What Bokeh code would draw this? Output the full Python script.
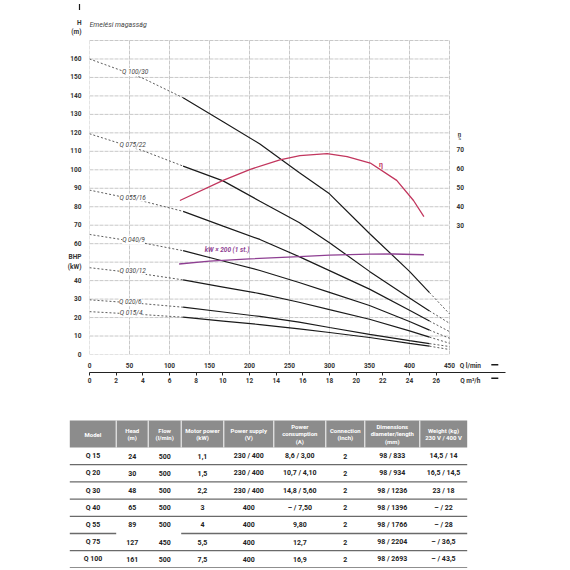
from bokeh.plotting import figure
from bokeh.models import Range1d, LinearAxis, FixedTicker, Label, Arrow, NormalHead
from bokeh.layouts import column
from bokeh.core.properties import value
from bokeh.embed import file_html
from bokeh.resources import INLINE

# ---------------- data ----------------
q_lmin = [0, 67, 117, 167, 213, 262, 300, 350, 400, 425, 450]
h_q100 = [160, 149.5, 139, 126, 114, 98.5, 87, 65.5, 45, 33.5, 22]
h_q75 = [119.5, 110.3, 102, 94, 83, 71.5, 60.5, 45, 30.6, 23.6, 16.9]
h_q55 = [89, 83, 77.5, 69.5, 62.3, 53, 45.4, 35.4, 24, 18.1, 12.4]
h_q40 = [65, 60.4, 56.2, 50.6, 45.5, 39, 33.6, 26.5, 17.9, 13.2, 8.8]
h_q30 = [47, 43.6, 40.4, 36.5, 33, 28.3, 24.3, 19.1, 12.8, 9.4, 6.1]
h_q20 = [29.6, 27.5, 25.6, 23, 20.6, 17.5, 14.6, 10.9, 7.5, 5.9, 4.3]
h_q15 = [23.2, 21.6, 20.2, 18.1, 16.2, 13.9, 11.9, 9.2, 6.0, 4.5, 2.7]
curve_names = ["Q 100/30", "Q 075/22", "Q 055/16", "Q 040/9", "Q 030/12", "Q 020/6", "Q 015/4"]
curve_heads = [h_q100, h_q75, h_q55, h_q40, h_q30, h_q20, h_q15]
label_q = [57, 54, 54, 55, 54, 51, 52]
label_h = [153, 113.5, 85, 62, 45.4, 28.3, 22.3]

eta_q = [113, 167, 201, 238, 263, 297, 322, 351, 384, 405, 418]
eta_pct = [43.3, 53.8, 59.6, 64.6, 66.8, 67.8, 66.2, 62.9, 53.8, 43.3, 34.9]
kw_q = [112, 150, 200, 262, 300, 350, 380, 418]
kw_x200 = [49, 50.5, 51.8, 53, 53.8, 54.3, 54.4, 54]

h_ticks = list(range(0, 170, 10))
h_grid = list(range(0, 171, 10))
q_ticks = list(range(0, 451, 50))
m3h_ticks = list(range(0, 27, 2))
eta_ticks = [30, 40, 50, 60, 70]
eta_labels = ["30", "40", "50", "60", "70"]

headers = ["Model", "Head\n(m)", "Flow\n(l/min)", "Motor power\n(kW)", "Power supply\n(V)",
           "Power\nconsumption\n(A)", "Connection\n(inch)", "Dimensions\ndiameter/length\n(mm)",
           "Weight (kg)\n230 V / 400 V"]
models = ["Q 15", "Q 20", "Q 30", "Q 40", "Q 55", "Q 75", "Q 100"]
head_m = ["24", "30", "48", "65", "89", "127", "161"]
flow = ["500", "500", "500", "500", "500", "450", "500"]
motor_kw = ["1,1", "1,5", "2,2", "3", "4", "5,5", "7,5"]
supply_v = ["230 / 400", "230 / 400", "230 / 400", "400", "400", "400", "400"]
consumption_a = ["8,6 / 3,00", "10,7 / 4,10", "14,8 / 5,60", "– / 7,50", "9,80", "12,7", "16,9"]
connection = ["2", "2", "2", "2", "2", "2", "2"]
dimensions = ["98 / 833", "98 / 934", "98 / 1236", "98 / 1396", "98 / 1766", "98 / 2204", "98 / 2693"]
weight = ["14,5 / 14", "16,5 / 14,5", "23 / 18", "– / 22", "– / 28", "– / 36,5", "– / 43,5"]

# ---------------- chart ----------------
FONT = "Roboto"
TXT = "#333333"
Q_MAX_VIEW = 520.0          # frame reaches a bit beyond the 450 l/min grid for the axis captions
H_MAX_VIEW = 191.66         # frame reaches up to the page top for the H caption
M3H_PER_LMIN = 0.06

p = figure(width=570, height=412, x_range=Range1d(0, Q_MAX_VIEW), y_range=Range1d(0, H_MAX_VIEW),
           toolbar_location=None, output_backend="svg",
           min_border_left=89, min_border_right=65, min_border_top=0, min_border_bottom=58)
p.frame_align = False
p.background_fill_color = "white"
p.border_fill_color = "white"
p.outline_line_color = None
p.grid.visible = False

# eta scale: 30 % at H 69.6, 70 % at H 111.0
p.extra_y_ranges = {"eta": Range1d(-37.25, 147.9)}
p.extra_x_ranges = {"m3h": Range1d(0, Q_MAX_VIEW * M3H_PER_LMIN)}

# grid (0..450 l/min, 0..170 m)
GRID = dict(line_color="#c8c8c8", line_width=1, line_dash="4 1")
p.segment(x0=q_ticks, y0=[0] * len(q_ticks), x1=q_ticks, y1=[170] * len(q_ticks), **GRID)
p.segment(x0=[0] * len(h_grid), y0=h_grid, x1=[450] * len(h_grid), y1=h_grid, **GRID)

def style_axis(ax, size="6.5px"):
    ax.major_label_text_font = FONT
    ax.major_label_text_font_size = size
    ax.major_label_text_font_style = "bold"
    ax.major_label_text_color = TXT
    ax.minor_tick_line_color = None
    ax.minor_tick_out = 0
    ax.minor_tick_in = 0

# left axis (H); the 50 position carries the BHP (kW) caption as in the original
H_CAPTION = 177.0
ya = p.yaxis[0]
ya.ticker = FixedTicker(ticks=h_ticks + [H_CAPTION])
ya.major_label_overrides = {50: "BHP\n(kW)", H_CAPTION: "H\n(m)"}
ya.axis_line_color = None
ya.major_tick_line_color = None
ya.major_tick_out = 0
ya.major_tick_in = 0
ya.major_label_standoff = 8
style_axis(ya)

# bottom axis l/min
Q_CAPTION = 476
xa = p.xaxis[0]
xa.ticker = FixedTicker(ticks=q_ticks + [Q_CAPTION])
xa.major_label_overrides = {Q_CAPTION: "Q l/min"}
xa.axis_line_color = None
xa.major_tick_line_color = None
xa.major_tick_out = 0
xa.major_tick_in = 0
xa.major_label_standoff = 7
style_axis(xa)

# bottom axis m3/h
M_CAPTION = Q_CAPTION * M3H_PER_LMIN
xa2 = LinearAxis(x_range_name="m3h",
                 ticker=FixedTicker(ticks=m3h_ticks + [M_CAPTION], minor_ticks=m3h_ticks))
xa2.major_label_overrides = {M_CAPTION: "Q m³/h"}
xa2.axis_line_color = "#222222"
xa2.axis_line_width = 1
style_axis(xa2)
xa2.major_tick_line_color = None
xa2.major_tick_in = 0
xa2.major_tick_out = 3
xa2.minor_tick_line_color = "#222222"
xa2.minor_tick_in = 0
xa2.minor_tick_out = 3
xa2.major_label_standoff = 1
p.add_layout(xa2, "below")

# eta scale labels
p.text(x=[458.75] * len(eta_ticks), y=eta_ticks, text=eta_labels, y_range_name="eta",
       text_align="left", text_baseline="middle", text_font=value(FONT),
       text_font_size="6.5px", text_font_style="bold", text_color=TXT)
p.text(x=[462.5], y=[78.3], text=["η"], y_range_name="eta",
       text_align="center", text_baseline="middle", text_font=value(FONT),
       text_font_size="6px", text_font_style="bold", text_color=TXT)
p.text(x=[462.5], y=[75.9], text=["%"], y_range_name="eta",
       text_align="center", text_baseline="middle", text_font=value(FONT),
       text_font_size="4.5px", text_color=TXT)

p.text(x=[0], y=[178.3], text=["Emelési magasság"], text_align="left", text_baseline="middle",
       text_font=value(FONT), text_font_size="7px", text_font_style="italic",
       text_color="#444444")

# pump curves: dashed start, solid middle, dashed end
for hs in curve_heads:
    p.line(q_lmin[:3], hs[:3], line_color="#333333", line_width=0.8, line_dash="2 2")
    p.line(q_lmin[2:10], hs[2:10], line_color="#1a1a1a", line_width=1.2)
    p.line(q_lmin[9:], hs[9:], line_color="#333333", line_width=0.8, line_dash="2 2")

for name, lq, lh in zip(curve_names, label_q, label_h):
    p.add_layout(Label(x=lq, y=lh, text=name, text_align="center", text_baseline="middle",
                       text_font=FONT, text_font_size="6.5px", text_font_style="italic",
                       text_color="#444444", background_fill_color="white"))

# efficiency & power
p.line(eta_q, eta_pct, y_range_name="eta", line_color="#c2365e", line_width=1.3)
p.line(kw_q, kw_x200, line_color="#8e3f92", line_width=1.3)
p.add_layout(Label(x=362, y=102.5, text="η", text_font=FONT, text_font_size="7px",
                   text_font_style="bold", text_color="#c2365e", text_baseline="middle"))
p.add_layout(Label(x=172, y=56.5, text="kW × 200 (1 st.)", text_align="center",
                   text_baseline="middle", text_font=FONT, text_font_size="6.5px",
                   text_font_style="bold italic", text_color="#8e3f92"))

# arrows
HEAD = dict(fill_color="#1a1a1a", line_color="#1a1a1a")
p.add_layout(Arrow(x_start=-12.5, y_start=183.5, x_end=-12.5, y_end=189.8,
                   line_color="#1a1a1a", line_width=1.2, end=NormalHead(size=6, **HEAD)))
for ya_ in (-5.6, -12.9):
    p.add_layout(Arrow(x_start=496, y_start=ya_, x_end=511, y_end=ya_,
                       line_color="#1a1a1a", line_width=1.5, end=NormalHead(size=7, **HEAD)))

# ---------------- table ----------------
t = figure(width=570, height=156, x_range=Range1d(0, 570), y_range=Range1d(156, 0),
           toolbar_location=None, output_backend="svg", min_border=0,
           x_axis_location=None, y_axis_location=None)
t.frame_align = False
t.grid.visible = False
t.outline_line_color = None
t.background_fill_color = "white"
t.border_fill_color = "white"

col_edges = [69.3, 115.7, 147.7, 180.7, 223.3, 273.3, 325.3, 364.3, 419.3, 466.7]
head_top, head_bot, row_h = 8, 35, 17.2
col_centers = [(a + b) / 2 for a, b in zip(col_edges[:-1], col_edges[1:])]

t.quad(left=[col_edges[0]], right=[col_edges[-1]], top=[head_top], bottom=[head_bot],
       fill_color="#8c8c8c", line_color=None)
t.segment(x0=col_edges[1:-1], y0=[head_top] * 8, x1=col_edges[1:-1], y1=[head_bot] * 8,
          line_color="white", line_width=1)
t.text(x=col_centers, y=[(head_top + head_bot) / 2] * 9, text=headers,
       text_align="center", text_baseline="middle", text_font=value(FONT),
       text_font_size="6px", text_font_style="bold", text_color="white",
       text_line_height=1.1)

columns = [models, head_m, flow, motor_kw, supply_v, consumption_a, connection, dimensions, weight]
xs, ys, txt = [], [], []
for ci, col in enumerate(columns):
    for ri, v in enumerate(col):
        xs.append(col_centers[ci])
        ys.append(head_bot + row_h * (ri + 0.5))
        txt.append(v)
t.text(x=xs, y=ys, text=txt, text_align="center", text_baseline="middle",
       text_font=value(FONT), text_font_size="7px", text_font_style="bold",
       text_color="#222222")

sx0, sy0, sx1, sy1 = [], [], [], []
for ri in range(len(models)):
    yline = head_bot + row_h * (ri + 1)
    if ri == 4:
        sx0 += [col_edges[0], col_edges[3]]
        sx1 += [col_edges[1], col_edges[-1]]
        sy0 += [yline, yline]
        sy1 += [yline, yline]
    else:
        sx0.append(col_edges[0]); sx1.append(col_edges[-1])
        sy0.append(yline); sy1.append(yline)
t.segment(x0=sx0, y0=sy0, x1=sx1, y1=sy1, line_color="#6a6a6a", line_width=1.3)

layout = column(p, t)
open("out.html", "w").write(file_html(layout, INLINE))
